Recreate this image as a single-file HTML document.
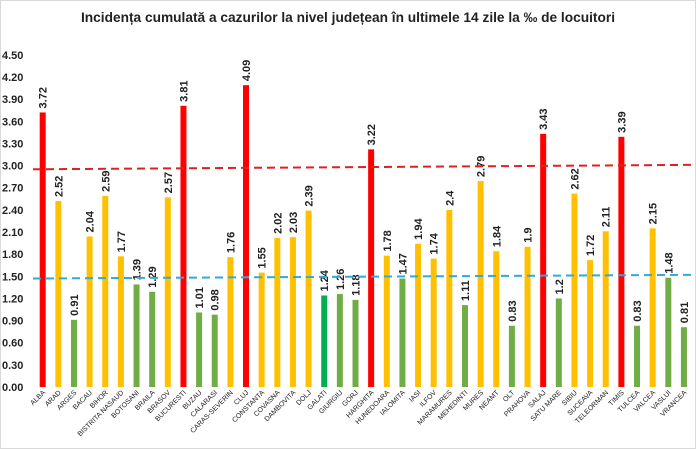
<!DOCTYPE html>
<html><head><meta charset="utf-8"><style>
html,body{margin:0;padding:0;background:#fff;}
svg{display:block;font-family:"Liberation Sans",sans-serif;}
</style></head><body>
<svg id="chart" width="696" height="449" viewBox="0 0 696 449" xmlns="http://www.w3.org/2000/svg">
<rect x="0.5" y="0.5" width="695" height="448" fill="#fff" stroke="#d9d9d9"/>
<text x="348" y="22" text-anchor="middle" font-size="14" font-weight="bold" fill="#222" textLength="534" lengthAdjust="spacingAndGlyphs">Incidența cumulată a cazurilor la nivel județean în ultimele 14 zile la ‰ de locuitori</text>
<g id="yaxis"></g>
<g id="bars"></g>
<g id="lines"></g>
</svg>
<script>
const categories=["ALBA","ARAD","ARGES","BACAU","BIHOR","BISTRITA NASAUD","BOTOSANI","BRAILA","BRASOV","BUCURESTI","BUZAU","CALARASI","CARAS-SEVERIN","CLUJ","CONSTANTA","COVASNA","DAMBOVITA","DOLJ","GALATI","GIURGIU","GORJ","HARGHITA","HUNEDOARA","IALOMITA","IASI","ILFOV","MARAMURES","MEHEDINTI","MURES","NEAMT","OLT","PRAHOVA","SALAJ","SATU MARE","SIBIU","SUCEAVA","TELEORMAN","TIMIS","TULCEA","VALCEA","VASLUI","VRANCEA"];
const values=[3.72,2.52,0.91,2.04,2.59,1.77,1.39,1.29,2.57,3.81,1.01,0.98,1.76,4.09,1.55,2.02,2.03,2.39,1.24,1.26,1.18,3.22,1.78,1.47,1.94,1.74,2.4,1.11,2.79,1.84,0.83,1.9,3.43,1.2,2.62,1.72,2.11,3.39,0.83,2.15,1.48,0.81];
const valueLabels=["3.72","2.52","0.91","2.04","2.59","1.77","1.39","1.29","2.57","3.81","1.01","0.98","1.76","4.09","1.55","2.02","2.03","2.39","1.24","1.26","1.18","3.22","1.78","1.47","1.94","1.74","2.4","1.11","2.79","1.84","0.83","1.9","3.43","1.2","2.62","1.72","2.11","3.39","0.83","2.15","1.48","0.81"];
const yTicks=[0,0.3,0.6,0.9,1.2,1.5,1.8,2.1,2.4,2.7,3.0,3.3,3.6,3.9,4.2,4.5];
const redLine=[2.95,3.01];
const blueLine=[1.47,1.52];
const NS="http://www.w3.org/2000/svg";
const y0=387, pxPerUnit=73.8;
function yS(v){return y0-v*pxPerUnit;}
function xS(i){return 42.7+i*15.64;}
function colorFor(v,name){
  if(name==="GALATI")return "#00b050";
  if(v>=3)return "#ff0000";
  if(v>=1.5)return "#ffc000";
  return "#70ad47";
}
function mk(tag,attrs,parent){const e=document.createElementNS(NS,tag);for(const k in attrs)e.setAttribute(k,attrs[k]);parent.appendChild(e);return e;}
const ya=document.getElementById('yaxis');
yTicks.forEach(t=>{
  const e=mk('text',{x:2,y:yS(t)+4,'font-size':11,'font-weight':'bold',fill:'#222'},ya);
  
  
  e.textContent=t.toFixed(2);
});
const bg=document.getElementById('bars');
categories.forEach((c,i)=>{
  const v=values[i],x=xS(i);
  const r=mk('rect',{x:x-3,y:yS(v),width:6,height:v*pxPerUnit,fill:colorFor(v,c)},bg);
  
  
  const lt=mk('text',{x:0,y:0,'font-size':11,'font-weight':'bold',fill:'#222',transform:`translate(${x+4},${yS(v)-4}) rotate(-90)`},bg);
  
  
  lt.textContent=valueLabels[i];
  const xl=mk('text',{x:0,y:0,'font-size':7,fill:'#222','text-anchor':'end',transform:`translate(${x+3},${y0+6}) rotate(-45)`},bg);
  
  
  xl.textContent=c;
});
const lg=document.getElementById('lines');
const l1=mk('line',{x1:33,y1:yS(redLine[0]),x2:694,y2:yS(redLine[1]),stroke:'#e02020','stroke-width':2,'stroke-dasharray':'8,5'},lg);


const l2=mk('line',{x1:33,y1:yS(blueLine[0]),x2:694,y2:yS(blueLine[1]),stroke:'#2eaadc','stroke-width':2,'stroke-dasharray':'8,5'},lg);


</script>
</body></html>
